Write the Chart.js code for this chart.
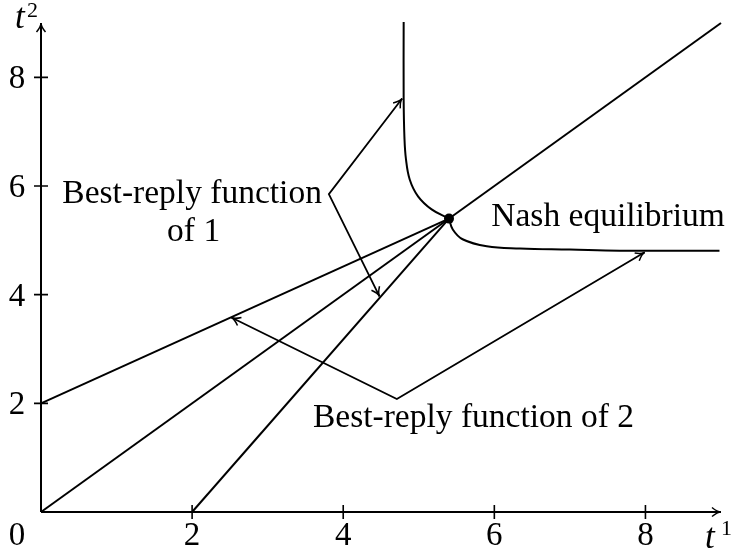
<!DOCTYPE html>
<html>
<head>
<meta charset="utf-8">
<title>Best-reply functions and Nash equilibrium</title>
<script src="https://cdn.jsdelivr.net/npm/chart.js@4/dist/chart.umd.min.js"></script>
<style>
  html, body { margin: 0; padding: 0; background: #ffffff; }
  canvas { display: block; }
</style>
</head>
<body>
<canvas id="chart" width="739" height="554"></canvas>
<script>
// Axis range and tick values
const axisMax = 9;
const xTicks = [2, 4, 6, 8];
const yTicks = [2, 4, 6, 8];

// Straight lines through the equilibrium
const lineFromT2Intercept = [[0, 2], [5.4, 5.4]];
const diagonal = [[0, 0], [9, 9]];
const lineFromT1Intercept = [[2, 0], [5.4, 5.4]];

// Curved branches of the best-reply functions
const reply1Curve = [[4.80, 9.02], [4.80, 7.60], [4.81, 6.90], [4.83, 6.50], [4.88, 6.12], [4.99, 5.81], [5.17, 5.57], [5.40, 5.40]];
const reply2Curve = [[5.40, 5.40], [5.45, 5.20], [5.58, 5.02], [5.90, 4.89], [6.34, 4.85], [7.00, 4.83], [7.66, 4.81], [8.98, 4.81]];

// Nash equilibrium
const equilibrium = [[5.4, 5.4]];

// Pointer lines from the labels to the functions (tip, corner, tip)
const pointer1 = [[4.78, 7.61], [3.81, 5.85], [4.48, 3.97]];
const pointer2 = [[2.52, 3.58], [4.71, 2.08], [7.99, 4.78]];

// Text labels
const labelTexts = ['Best-reply function', 'of 1', 'Nash equilibrium', 'Best-reply function of 2'];

const toXY = arr => arr.map(p => ({ x: p[0], y: p[1] }));

const FONT = '"Liberation Serif", "Times New Roman", serif';

function lineSet(pts, extra) {
  return Object.assign({
    data: toXY(pts),
    showLine: true,
    borderColor: '#000',
    borderWidth: 2,
    pointRadius: 0,
    fill: false,
    tension: 0,
    clip: false
  }, extra || {});
}

function arrowHead(ctx, fromX, fromY, toX, toY, len, half) {
  const ang = Math.atan2(toY - fromY, toX - fromX);
  ctx.beginPath();
  ctx.moveTo(toX - len * Math.cos(ang) + half * Math.sin(ang), toY - len * Math.sin(ang) - half * Math.cos(ang));
  ctx.quadraticCurveTo(toX - 0.4 * len * Math.cos(ang), toY - 0.4 * len * Math.sin(ang), toX, toY);
  ctx.quadraticCurveTo(toX - 0.4 * len * Math.cos(ang), toY - 0.4 * len * Math.sin(ang),
    toX - len * Math.cos(ang) - half * Math.sin(ang), toY - len * Math.sin(ang) + half * Math.cos(ang));
  ctx.stroke();
}

const figurePlugin = {
  id: 'figureDecor',
  afterDatasetsDraw(chart) {
    const ctx = chart.ctx;
    const xs = chart.scales.x, ys = chart.scales.y;
    const px = v => xs.getPixelForValue(v);
    const py = v => ys.getPixelForValue(v);
    const ox = px(0), oy = py(0);

    ctx.save();
    ctx.strokeStyle = '#000';
    ctx.fillStyle = '#000';
    ctx.lineCap = 'butt';

    // Axes
    ctx.lineWidth = 2;
    ctx.beginPath();
    ctx.moveTo(ox, oy); ctx.lineTo(px(axisMax), oy);
    ctx.moveTo(ox, oy); ctx.lineTo(ox, py(axisMax));
    ctx.stroke();
    ctx.lineWidth = 1.5;
    arrowHead(ctx, ox, oy, px(axisMax), oy, 9, 4.5);
    arrowHead(ctx, ox, oy, ox, py(axisMax), 9, 4.5);

    // Tick marks crossing the axes
    ctx.lineWidth = 1.6;
    ctx.beginPath();
    xTicks.forEach(t => { ctx.moveTo(px(t), oy - 7); ctx.lineTo(px(t), oy + 7); });
    yTicks.forEach(t => { ctx.moveTo(ox - 7, py(t)); ctx.lineTo(ox + 7, py(t)); });
    ctx.stroke();

    // Tick labels
    ctx.font = '33px ' + FONT;
    ctx.textBaseline = 'alphabetic';
    ctx.textAlign = 'center';
    xTicks.forEach(t => ctx.fillText(String(t), px(t), oy + 33));
    yTicks.forEach(t => ctx.fillText(String(t), ox - 24, py(t) + 11));
    ctx.fillText('0', ox - 24, oy + 33);

    // Axis titles t^1 and t^2
    ctx.textAlign = 'left';
    ctx.font = 'italic 35px ' + FONT;
    ctx.fillText('t', px(axisMax) - 16, oy + 36);
    ctx.fillText('t', ox - 26, py(axisMax) + 5);
    ctx.font = '22px ' + FONT;
    ctx.fillText('1', px(axisMax) + 0, oy + 23);
    ctx.fillText('2', ox - 14, py(axisMax) - 6);

    // Annotation labels
    ctx.font = '33.5px ' + FONT;
    ctx.textAlign = 'center';
    ctx.fillText(labelTexts[0], px(2.0), py(5.68));
    ctx.fillText(labelTexts[1], px(2.02), py(4.99));
    ctx.textAlign = 'left';
    ctx.fillText(labelTexts[2], px(5.96), py(5.26));
    ctx.fillText(labelTexts[3], px(3.60), py(1.556));

    // Arrow heads at the ends of the pointer lines
    ctx.lineWidth = 1.5;
    [pointer1, pointer2].forEach(p => {
      arrowHead(ctx, px(p[1][0]), py(p[1][1]), px(p[0][0]), py(p[0][1]), 9, 4.5);
      arrowHead(ctx, px(p[1][0]), py(p[1][1]), px(p[2][0]), py(p[2][1]), 9, 4.5);
    });

    ctx.restore();
  }
};

new Chart(document.getElementById('chart'), {
  type: 'scatter',
  data: {
    datasets: [
      lineSet(lineFromT2Intercept),
      lineSet(diagonal),
      lineSet(lineFromT1Intercept),
      lineSet(reply1Curve, { tension: 0.4 }),
      lineSet(reply2Curve, { tension: 0.4 }),
      lineSet(pointer1, { borderWidth: 1.8 }),
      lineSet(pointer2, { borderWidth: 1.8 }),
      {
        data: toXY(equilibrium),
        showLine: false,
        pointRadius: 5,
        pointBackgroundColor: '#000',
        pointBorderColor: '#000',
        pointBorderWidth: 0,
        clip: false
      }
    ]
  },
  options: {
    responsive: false,
    animation: false,
    devicePixelRatio: 1,
    layout: { padding: { left: 41, right: 18, top: 23, bottom: 42 } },
    plugins: {
      legend: { display: false },
      tooltip: { enabled: false }
    },
    scales: {
      x: { type: 'linear', min: 0, max: axisMax, display: false },
      y: { type: 'linear', min: 0, max: axisMax, display: false }
    }
  },
  plugins: [figurePlugin]
});
</script>
</body>
</html>
